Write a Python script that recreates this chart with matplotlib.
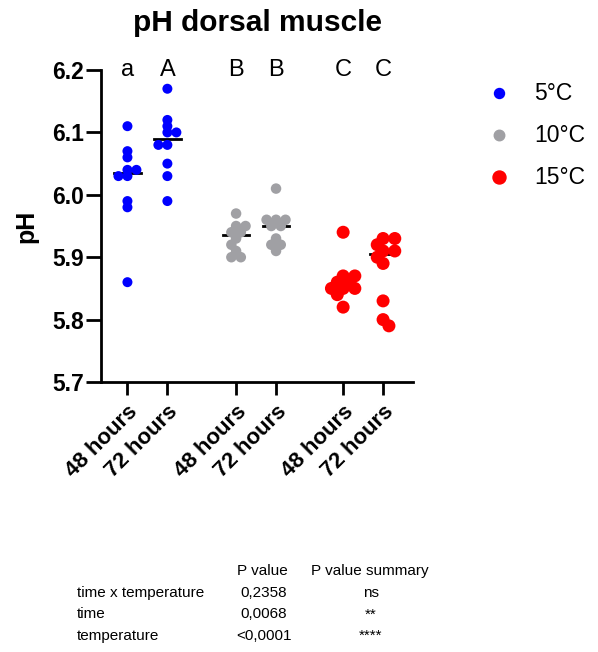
import numpy as np
import matplotlib
matplotlib.use("Agg")
from matplotlib import pyplot as plt

plt.rcParams['font.family'] = ['Liberation Sans', 'DejaVu Sans']

# pH values per group
ph_5_48 = [6.11, 6.07, 6.06, 6.04, 6.04, 6.03, 6.03, 5.99, 5.98, 5.86]
ph_5_72 = [6.17, 6.12, 6.11, 6.10, 6.10, 6.08, 6.08, 6.05, 6.03, 5.99]
ph_10_48 = [5.97, 5.95, 5.95, 5.94, 5.94, 5.93, 5.92, 5.91, 5.90, 5.90]
ph_10_72 = [6.01, 5.96, 5.96, 5.96, 5.95, 5.95, 5.93, 5.92, 5.92, 5.91]
ph_15_48 = [5.94, 5.87, 5.87, 5.86, 5.86, 5.85, 5.85, 5.85, 5.84, 5.82]
ph_15_72 = [5.93, 5.93, 5.92, 5.91, 5.91, 5.90, 5.89, 5.83, 5.80, 5.79]

groups = [ph_5_48, ph_5_72, ph_10_48, ph_10_72, ph_15_48, ph_15_72]
group_pos = [0, 1, 2.72, 3.72, 5.4, 6.4]
group_temp = ['5°C', '5°C', '10°C', '10°C', '15°C', '15°C']
tick_labels = ['48 hours', '72 hours'] * 3
letters = ['a', 'A', 'B', 'B', 'C', 'C']

temps = ['5°C', '10°C', '15°C']
colors = {'5°C': '#0000ff', '10°C': '#a0a0a4', '15°C': '#ff0000'}
dot_px = {'5°C': 10, '10°C': 10.5, '15°C': 13}

stats_terms = ['time x temperature', 'time', 'temperature']
stats_p = ['0,2358', '0,0068', '<0,0001']
stats_summary = ['ns', '**', '****']

fig = plt.figure(figsize=(5.98, 6.52), dpi=100)
ax = fig.add_axes([0.1697, 0.4141, 0.5210, 0.4785])
ax.set_xlim(-0.65, 7.15)
ax.set_ylim(5.7, 6.2)

# pixels per data unit, for a simple beeswarm
px_x = 0.5210 * 598 / 7.8
px_y = 0.4785 * 652 / 0.5


def swarm(vals, diam):
    placed = []
    offs = []
    for v in vals:
        yv = v * px_y
        k = 0
        while True:
            if k == 0:
                cands = [0]
            else:
                nr = sum(1 for px, py in placed if px > 0)
                nl = sum(1 for px, py in placed if px < 0)
                cands = [k * 0.45, -k * 0.45] if nr <= nl else [-k * 0.45, k * 0.45]
            ok = None
            for c in cands:
                xc = c * diam
                if all((xc - px) ** 2 + (yv - py) ** 2 >= (diam * 0.6) ** 2 for px, py in placed):
                    ok = xc
                    break
            if ok is not None:
                placed.append((ok, yv))
                offs.append(ok / px_x)
                break
            k += 1
    return np.array(offs)


for vals, pos, t in zip(groups, group_pos, group_temp):
    vals = np.array(vals)
    med = np.median(vals)
    ax.plot([pos - 0.33, pos + 0.33], [med, med], color='black', lw=2, zorder=2)
    offs = swarm(vals, dot_px[t])
    ax.scatter(pos + offs, vals, s=(dot_px[t] * 0.72) ** 2, color=colors[t],
               edgecolors='none', zorder=3, clip_on=False)

for pos, let in zip(group_pos, letters):
    ax.text(pos, 6.2, let, ha='center', va='center', fontsize=17)

for sp in ['top', 'right']:
    ax.spines[sp].set_visible(False)
for sp in ['left', 'bottom']:
    ax.spines[sp].set_linewidth(2)
ax.tick_params(axis='y', width=2, length=10.5, pad=2)
ax.tick_params(axis='x', width=2, length=9, pad=5)
ax.set_yticks([5.7, 5.8, 5.9, 6.0, 6.1, 6.2])
ax.set_yticklabels(['5.7', '5.8', '5.9', '6.0', '6.1', '6.2'], fontsize=16.5, fontweight='bold')
ax.set_xticks(group_pos)
ax.set_xticklabels(tick_labels, rotation=45, ha='right', rotation_mode='anchor',
                   fontsize=16, fontweight='bold')
ax.set_ylabel('pH', fontsize=18, fontweight='bold', labelpad=10)
ax.set_title('pH dorsal muscle', fontsize=21.5, fontweight='bold', pad=28)

# legend
for i, t in enumerate(temps):
    yy = 1 - (93 + 42 * i) / 652
    fig.lines.append(plt.Line2D([499 / 598], [yy], marker='o', ms=dot_px[t] * 0.72,
                                color=colors[t], ls='none', transform=fig.transFigure))
    fig.text(534 / 598, yy, t, fontsize=16.5, va='center', ha='left')

# stats table
fs = 11
fig.text(262 / 598, 1 - 571 / 652, 'P value', fontsize=fs, ha='center', va='center')
fig.text(370 / 598, 1 - 571 / 652, 'P value summary', fontsize=fs, ha='center', va='center')
for i, (term, p, s) in enumerate(zip(stats_terms, stats_p, stats_summary)):
    yy = 1 - (593 + 21.5 * i) / 652
    fig.text(77 / 598, yy, term, fontsize=fs, ha='left', va='center')
    fig.text(264 / 598, yy, p, fontsize=fs, ha='center', va='center')
    fig.text(371 / 598, yy, s, fontsize=fs, ha='center', va='center')

fig.savefig('out.png', dpi=100)
